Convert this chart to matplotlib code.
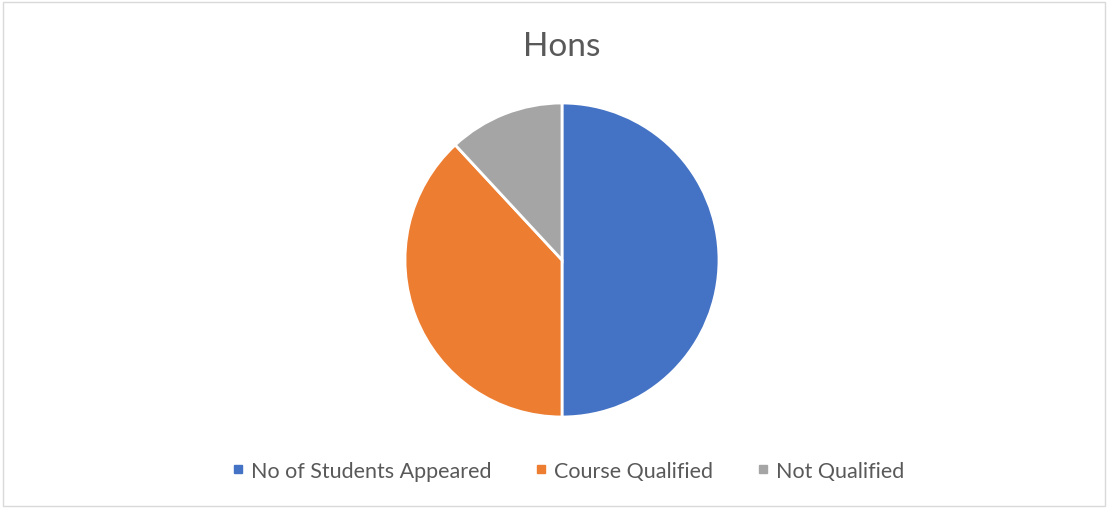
import matplotlib.pyplot as plt
from matplotlib.lines import Line2D
from matplotlib.patches import Rectangle

# Data
labels = ["No of Students Appeared", "Course Qualified", "Not Qualified"]
values = [42, 32, 10]
colors = ["#4472C4", "#ED7D31", "#A5A5A5"]

W, H = 1108, 510
fig = plt.figure(figsize=(W / 100, H / 100), dpi=100)
fig.patch.set_facecolor("white")
plt.rcParams["font.family"] = ["Lato", "DejaVu Sans"]

# light frame around the chart area
fig.patches.append(Rectangle((3 / W, 3 / H), 1 - 6 / W, 1 - 6 / H,
                             transform=fig.transFigure, fill=False,
                             edgecolor="#D9D9D9", linewidth=1))

# pie centred at (562, 261) px, radius ~157 px
r = 157
cx, cy = 562, H - 261
ax = fig.add_axes([(cx - r) / W, (cy - r) / H, 2 * r / W, 2 * r / H])
ax.pie(values, colors=colors, startangle=90, counterclock=False,
       wedgeprops=dict(edgecolor="white", linewidth=2))
ax.set_xlim(-1, 1)
ax.set_ylim(-1, 1)
ax.set_aspect("equal")
ax.axis("off")

fig.text(cx / W, 1 - 47 / H, "Hons", ha="center", va="center",
         fontsize=24, color="#595959")

handles = [Line2D([], [], marker="s", linestyle="none", markersize=6,
                  markerfacecolor=c, markeredgecolor=c) for c in colors]
fig.legend(handles, labels, loc="center", bbox_to_anchor=(568 / W, 38 / H),
           ncol=3, frameon=False, fontsize=15.5, labelcolor="#595959",
           handlelength=0.6, handletextpad=0.3, columnspacing=2.0)

fig.savefig("out.png", dpi=100)
